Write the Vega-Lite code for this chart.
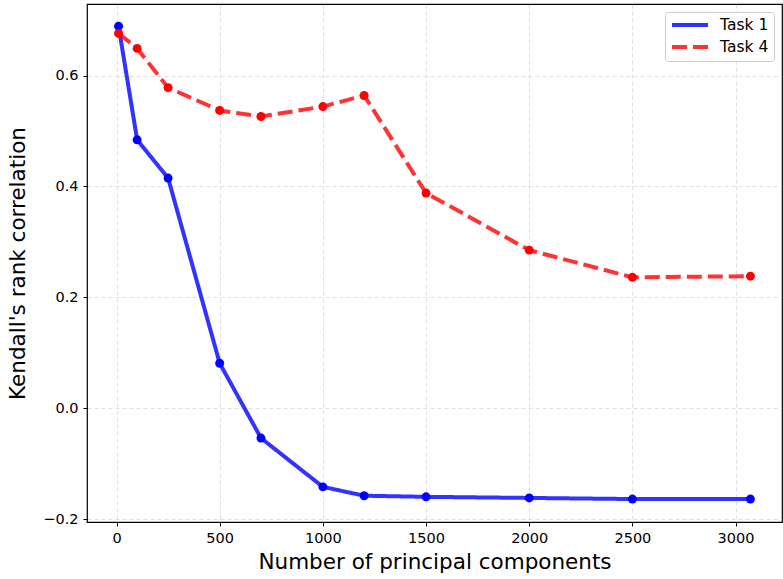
{
  "$schema": "https://vega.github.io/schema/vega-lite/v6.json",
  "width": 695,
  "height": 518,
  "autosize": {"type": "none"},
  "padding": {"left": 87, "top": 4, "right": 1, "bottom": 57},
  "background": "white",
  "config": {
    "font": "DejaVu Sans",
    "view": {"stroke": "black", "strokeWidth": 1.2},
    "axis": {
      "labelFont": "DejaVu Sans",
      "titleFont": "DejaVu Sans",
      "labelFontSize": 14.5,
      "titleFontSize": 21.5,
      "titleFontWeight": "normal",
      "labelColor": "black",
      "titleColor": "black",
      "tickColor": "black",
      "tickSize": 4,
      "domain": false,
      "grid": true,
      "gridColor": "#b0b0b0",
      "gridOpacity": 0.5,
      "gridDash": [4, 3],
      "gridWidth": 0.8
    }
  },
  "data": {
    "values": [
      {"n": 10, "r": 0.689, "task": "Task 1"},
      {"n": 100, "r": 0.484, "task": "Task 1"},
      {"n": 250, "r": 0.415, "task": "Task 1"},
      {"n": 500, "r": 0.081, "task": "Task 1"},
      {"n": 700, "r": -0.054, "task": "Task 1"},
      {"n": 1000, "r": -0.142, "task": "Task 1"},
      {"n": 1200, "r": -0.158, "task": "Task 1"},
      {"n": 1500, "r": -0.160, "task": "Task 1"},
      {"n": 2000, "r": -0.162, "task": "Task 1"},
      {"n": 2500, "r": -0.164, "task": "Task 1"},
      {"n": 3072, "r": -0.164, "task": "Task 1"},
      {"n": 10, "r": 0.676, "task": "Task 4"},
      {"n": 100, "r": 0.649, "task": "Task 4"},
      {"n": 250, "r": 0.578, "task": "Task 4"},
      {"n": 500, "r": 0.537, "task": "Task 4"},
      {"n": 700, "r": 0.526, "task": "Task 4"},
      {"n": 1000, "r": 0.544, "task": "Task 4"},
      {"n": 1200, "r": 0.564, "task": "Task 4"},
      {"n": 1500, "r": 0.388, "task": "Task 4"},
      {"n": 2000, "r": 0.285, "task": "Task 4"},
      {"n": 2500, "r": 0.236, "task": "Task 4"},
      {"n": 3072, "r": 0.238, "task": "Task 4"}
    ]
  },
  "encoding": {
    "x": {
      "field": "n", "type": "quantitative",
      "scale": {"domain": [-143, 3225], "nice": false, "zero": false},
      "axis": {"values": [0, 500, 1000, 1500, 2000, 2500, 3000], "format": "d", "title": "Number of principal components", "titlePadding": 7, "labelPadding": 5}
    },
    "y": {
      "field": "r", "type": "quantitative",
      "scale": {"domain": [-0.2054, 0.729], "nice": false, "zero": false},
      "axis": {"values": [-0.2, 0, 0.2, 0.4, 0.6], "format": ".1f", "title": "Kendall's rank correlation", "titlePadding": 13, "labelPadding": 5}
    }
  },
  "layer": [
    {
      "mark": {"type": "line", "strokeWidth": 4, "opacity": 0.8},
      "encoding": {
        "color": {
          "field": "task", "type": "nominal",
          "scale": {"domain": ["Task 1", "Task 4"], "range": ["#0000ff", "#ff0000"]},
          "legend": {
            "title": null,
            "orient": "top-right",
            "offset": 8,
            "symbolType": "M-1,0H5",
            "symbolStrokeWidth": 4,
            "symbolSize": 144,
            "labelFontSize": 15.5,
            "labelFont": "DejaVu Sans",
            "labelColor": "black",
            "labelOffset": 34,
            "fillColor": "white",
            "strokeColor": "#cccccc",
            "cornerRadius": 3,
            "padding": 5,
            "rowPadding": 5,
            "symbolOpacity": 0.8
          }
        },
        "strokeDash": {
          "field": "task", "type": "nominal",
          "scale": {"domain": ["Task 1", "Task 4"], "range": [[1, 0], [15, 6]]},
          "legend": null
        }
      }
    },
    {
      "mark": {"type": "point", "filled": true, "size": 80, "opacity": 1},
      "encoding": {
        "color": {"field": "task", "type": "nominal", "legend": null}
      }
    }
  ]
}
